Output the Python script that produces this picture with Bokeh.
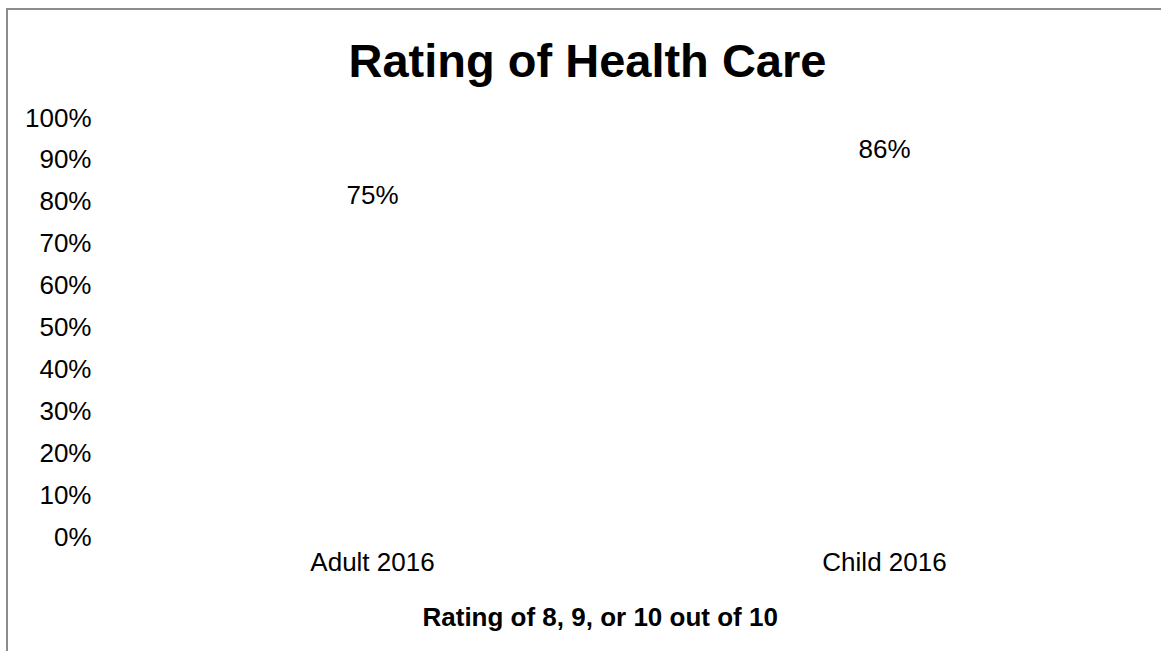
from bokeh.plotting import figure
from bokeh.models import ColumnDataSource, LabelSet, Title, NumeralTickFormatter, FixedTicker
from bokeh.core.properties import value
from bokeh.embed import file_html
from bokeh.resources import INLINE

categories = ["Adult 2016", "Child 2016"]
values = [0.75, 0.86]
labels = ["75%", "86%"]
y_ticks = [0, 0.1, 0.2, 0.3, 0.4, 0.5, 0.6, 0.7, 0.8, 0.9, 1.0]

FONT = "Liberation Sans"

source = ColumnDataSource(dict(cat=categories, val=values, lab=labels))

p = figure(x_range=categories, y_range=(0, 1), width=1161, height=651,
           output_backend="svg", toolbar_location=None,
           min_border_left=116, min_border_right=21, min_border_top=117, min_border_bottom=114)
p.border_fill_color = None
p.background_fill_color = None
p.styles = {
    "background": "linear-gradient(#8c8c8c, #8c8c8c) 6px 8px / 2px 100% no-repeat, "
                  "linear-gradient(#8c8c8c, #8c8c8c) 6px 8px / 100% 2px no-repeat, white",
}

p.vbar(x="cat", top="val", width=0.5, source=source, fill_color="white", line_color=None)

p.add_layout(LabelSet(x="cat", y="val", text="lab", source=source, y_offset=27,
                      text_align="center", text_baseline="middle",
                      text_font=value(FONT), text_font_size="26px", text_color="black"))

p.title.text = "Rating of Health Care"
p.title.text_font = FONT
p.title.text_font_size = "47px"
p.title.text_font_style = "bold"
p.title.align = "left"
p.title.offset = 232
p.title.standoff = 61
p.title.text_color = "black"

p.add_layout(Title(text="Rating of 8, 9, or 10 out of 10", align="left", offset=306,
                   text_font=FONT, text_font_size="26px", text_font_style="bold",
                   text_color="black", standoff=40), "below")

p.xgrid.grid_line_color = None
p.ygrid.grid_line_color = None
p.outline_line_color = None

p.yaxis.ticker = FixedTicker(ticks=y_ticks)
p.yaxis.formatter = NumeralTickFormatter(format="0%")
for ax in (p.xaxis, p.yaxis):
    ax.axis_line_color = None
    ax.major_tick_line_color = None
    ax.minor_tick_line_color = None
    ax.major_tick_out = 0
    ax.major_tick_in = 0
    ax.major_label_text_font = FONT
    ax.major_label_text_font_size = "26px"
    ax.major_label_text_color = "black"
p.yaxis.major_label_standoff = 25
p.xaxis.major_label_standoff = 10

open("out.html", "w").write(file_html(p, INLINE))
